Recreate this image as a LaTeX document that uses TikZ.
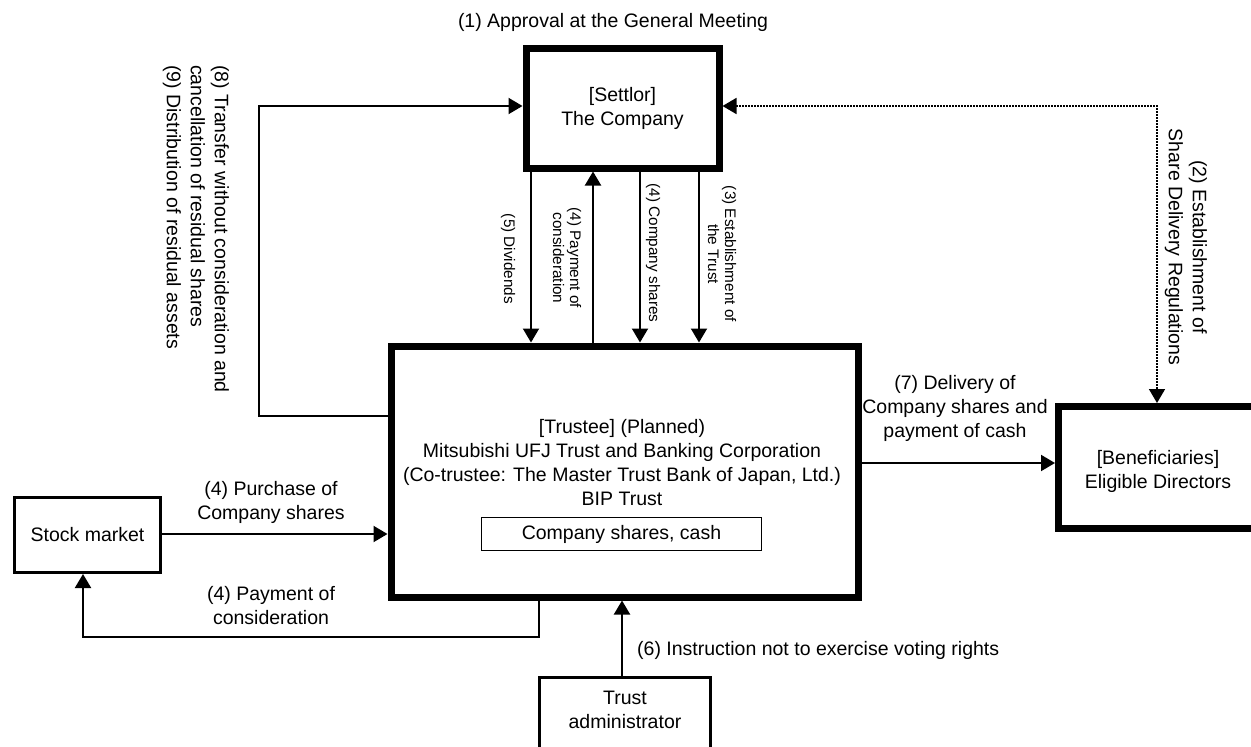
\documentclass[tikz,border=0pt]{standalone}
\usepackage{fontspec}
\setmainfont{Liberation Sans}
\usetikzlibrary{arrows.meta}
\tikzset{
 main/.style={font=\fontsize{19.5}{24}\selectfont, align=center, inner sep=0pt},
 small/.style={font=\fontsize{15.3}{17}\selectfont, align=center, inner sep=0pt, rotate=-90},
 bigbox/.style={draw, line width=7pt, main},
 thinbox/.style={draw, line width=3pt, main},
 arr/.style={line width=2pt, -{Triangle[length=14pt,width=16pt]}},
 dotarr/.style={line width=1.6pt, dash pattern=on 1.6pt off 1.4pt, {Triangle[length=14pt,width=16pt]}-{Triangle[length=14pt,width=16pt]}},
}
\begin{document}
\begin{tikzpicture}[x=1pt,y=-1pt]
\useasboundingbox (0,0) rectangle (1251,747);
% boxes
\node[bigbox, minimum width=193, minimum height=120] (settlor) at (622.5,108) {[Settlor]\\The Company};
\node[bigbox, minimum width=467, minimum height=251] (trustee) at (624.5,471.5) {};
\node[main] (trtext) at (622,462.5) {[Trustee] (Planned)\\Mitsubishi UFJ Trust and Banking Corporation\\(Co-trustee: The Master Trust Bank of Japan, Ltd.)\\BIP Trust};
\node[draw, line width=1.3pt, main, minimum width=280, minimum height=33] (assets) at (621.5,534) {Company shares, cash};
\node[bigbox, minimum width=230, minimum height=122] (bene) at (1173.5,467.5) {};
\node[main] (benetext) at (1158,471) {[Beneficiaries]\\Eligible Directors};
\node[thinbox, minimum width=146, minimum height=75] (stock) at (87.5,535) {Stock market};
\node[thinbox, minimum width=171, minimum height=100, anchor=north] (admin) at (625,676) {};
\node[main] (admintext) at (625,710) {Trust\\administrator};
% labels
\node[main] (title) at (613,22) {(1) Approval at the General Meeting};
\node[main, rotate=-90, anchor=west, align=left] (lab89) at (196,65) {(8) Transfer without consideration and\\cancellation of residual shares\\(9) Distribution of residual assets};
\node[main, rotate=-90] (lab2) at (1186,247) {(2) Establishment of\\Share Delivery Regulations};
\node[small] (lab5) at (508,259) {(5) Dividends};
\node[small] (lab4a) at (567,258) {(4) Payment of\\consideration};
\node[small] (lab4b) at (653,253) {(4) Company shares};
\node[small] (lab3) at (722,254) {(3) Establishment of\\the Trust};
\node[main] (lab4c) at (271,502) {(4) Purchase of\\Company shares};
\node[main] (lab4d) at (271,606) {(4) Payment of\\consideration};
\node[main] (lab7) at (955,408.5) {(7) Delivery of\\Company shares and\\payment of cash};
\node[main, anchor=west] (lab6) at (637,650) {(6) Instruction not to exercise voting rights};
% helper coordinates
\coordinate (cA) at (531,0);
\coordinate (cB) at (593,0);
\coordinate (cC) at (640,0);
\coordinate (cD) at (699,0);
\coordinate (loopc) at (259,106);
\coordinate (dc) at (1157,106);
\coordinate (c534) at (0,534);
\coordinate (p1) at (539,637);
\coordinate (p2) at (83,637);
\coordinate (c622) at (622,0);
\coordinate (c463) at (0,463);
% connectors
\draw[arr] (settlor.south -| cA) -- (trustee.north -| cA);
\draw[arr] (trustee.north -| cB) -- (settlor.south -| cB);
\draw[arr] (settlor.south -| cC) -- (trustee.north -| cC);
\draw[arr] (settlor.south -| cD) -- (trustee.north -| cD);
\draw[arr] ([yshift=55.5pt]trustee.west) -| (loopc) -- (settlor.west |- loopc);
\draw[dotarr] (settlor.east |- dc) -- (dc) -- (bene.north -| dc);
\draw[arr] (stock.east |- c534) -- (trustee.west |- c534);
\draw[arr] (trustee.south -| p1) -- (p1) -- (p2) -- (stock.south -| p2);
\draw[arr] (admin.north -| c622) -- (trustee.south -| c622);
\draw[arr] (trustee.east |- c463) -- (bene.west |- c463);
\end{tikzpicture}
\end{document}
